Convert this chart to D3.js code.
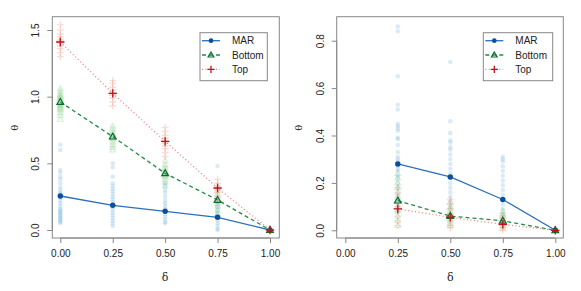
<!DOCTYPE html>
<html lang="en">
<head>
<meta charset="UTF-8">
<title>theta vs delta</title>
<script src="https://d3js.org/d3.v7.min.js"></script>
<style>
  body { margin: 0; background: #fff; }
  text { font-family: "Liberation Sans", Arial, sans-serif; fill: #222; }
</style>
</head>
<body>
<svg id="chart" width="581" height="291"></svg>
<script>
// shared
const deltas = [0, 0.25, 0.5, 0.75, 1];
const xTicks = [0, 0.25, 0.5, 0.75, 1];
const seriesNames = ["MAR", "Bottom", "Top"];

// left panel: means
const leftMAR = [0.255, 0.185, 0.14, 0.095, 0];
const leftBottom = [0.96, 0.70, 0.425, 0.225, 0];
const leftTop = [1.41, 1.025, 0.665, 0.315, 0];
const leftYTicks = [0, 0.5, 1.0, 1.5];

// left panel: replicates per delta (0, .25, .5, .75)
const leftMARReps = [
  [0.05,0.06,0.07,0.08,0.09,0.10,0.11,0.12,0.13,0.14,0.15,0.16,0.18,0.20,0.22,0.24,0.25,0.26,0.27,0.28,0.30,0.32,0.35,0.38,0.40,0.43,0.45,0.60,0.64],
  [0.03,0.05,0.07,0.09,0.11,0.13,0.15,0.17,0.19,0.21,0.23,0.25,0.27,0.29,0.31,0.33,0.35,0.40,0.47,0.50],
  [0.05,0.06,0.08,0.10,0.12,0.14,0.16,0.18,0.20,0.22,0.25,0.28,0.30,0.33,0.35],
  [0.0,0.01,0.03,0.05,0.07,0.09,0.11,0.13,0.15,0.17,0.19,0.21,0.48]
];
const leftBottomReps = [
  [0.83,0.86,0.88,0.90,0.91,0.92,0.93,0.94,0.95,0.96,0.97,0.98,0.99,1.00,1.01,1.02,1.04,1.06],
  [0.60,0.62,0.64,0.66,0.68,0.69,0.70,0.71,0.72,0.74,0.76,0.78],
  [0.33,0.36,0.38,0.40,0.41,0.42,0.43,0.44,0.45,0.47,0.49,0.52],
  [0.12,0.15,0.18,0.20,0.22,0.23,0.25,0.27,0.30]
];
const leftTopReps = [
  [1.30,1.33,1.36,1.38,1.40,1.41,1.42,1.43,1.45,1.47,1.50,1.54],
  [0.93,0.96,0.99,1.01,1.02,1.03,1.05,1.07,1.10,1.12],
  [0.55,0.58,0.61,0.63,0.65,0.66,0.67,0.69,0.71,0.74,0.77],
  [0.22,0.25,0.28,0.30,0.31,0.32,0.33,0.35,0.38]
];

// right panel: means (no value at delta 0)
const rightMAR = [null, 0.28, 0.225, 0.13, 0];
const rightBottom = [null, 0.125, 0.06, 0.04, 0];
const rightTop = [null, 0.09, 0.055, 0.025, 0];
const rightYTicks = [0, 0.2, 0.4, 0.6, 0.8];

const rightMARReps = [
  [],
  [0.86,0.84,0.65,0.53,0.51,0.45,0.44,0.43,0.42,0.39,0.385,0.36,0.33,0.31,0.30,0.29,0.28,0.27,0.26,0.25,0.23,0.22,0.20,0.18,0.15,0.12,0.10,0.08],
  [0.71,0.46,0.41,0.38,0.37,0.35,0.34,0.32,0.30,0.28,0.26,0.24,0.22,0.20,0.18,0.16,0.14,0.12,0.10],
  [0.31,0.30,0.29,0.27,0.25,0.23,0.21,0.19,0.17,0.15,0.13,0.11,0.09,0.07,0.05,0.04]
];
const rightBottomReps = [
  [],
  [0.02,0.04,0.06,0.08,0.10,0.12,0.14,0.16,0.18,0.20,0.22,0.24],
  [0.02,0.03,0.04,0.05,0.06,0.07,0.08,0.09,0.10,0.12],
  [0.01,0.02,0.03,0.04,0.05,0.06,0.07,0.08]
];
const rightTopReps = [
  [],
  [0.02,0.04,0.06,0.08,0.09,0.10,0.12,0.14,0.16,0.18],
  [0.01,0.02,0.04,0.05,0.06,0.07,0.09,0.11,0.13],
  [0.0,0.01,0.02,0.03,0.04,0.05,0.06]
];

// styles per series
const styles = {
  MAR:    { line: "#2c6fbb", dash: null,   pt: "#0b4f9c", rep: "#7fb6e0", shape: "circle" },
  Bottom: { line: "#238b45", dash: "4,3",  pt: "#0a6b2e", rep: "#74c476", shape: "triangle" },
  Top:    { line: "#e8837a", dash: "1,2.5", pt: "#c4121b", rep: "#f08070", shape: "plus" }
};

const svg = d3.select("#chart");

function marker(g, shape, x, y, color, opacity, size) {
  if (shape === "circle") {
    g.append("circle").attr("cx", x).attr("cy", y).attr("r", size * 0.65)
      .attr("fill", color).attr("fill-opacity", opacity);
  } else if (shape === "triangle") {
    const s = size;
    g.append("path")
      .attr("d", `M${x},${y - s * 0.85}L${x + s * 0.8},${y + s * 0.55}L${x - s * 0.8},${y + s * 0.55}Z`)
      .attr("fill", "none").attr("stroke", color).attr("stroke-width", 1.2)
      .attr("stroke-opacity", opacity);
  } else {
    const s = size;
    g.append("path")
      .attr("d", `M${x - s},${y}H${x + s}M${x},${y - s}V${y + s}`)
      .attr("stroke", color).attr("stroke-width", 1.3).attr("stroke-opacity", opacity);
  }
}

function drawPanel(p) {
  const g = svg.append("g");
  const x = d3.scaleLinear().domain([0, 1]).range([p.x0, p.x1]);
  const y = d3.scaleLinear().domain([0, p.yTop]).range([p.y0, p.y1]);

  // frame
  g.append("rect").attr("x", p.left).attr("y", 16.7)
    .attr("width", p.right - p.left).attr("height", 238 - 16.7)
    .attr("fill", "none").attr("stroke", "#888").attr("stroke-width", 1);

  // axes
  const xa = g.append("g").attr("transform", `translate(0,238)`)
    .call(d3.axisBottom(x).tickValues(xTicks).tickFormat(d3.format(".2f")).tickSizeOuter(0).tickSize(5).tickPadding(7));
  const ya = g.append("g").attr("transform", `translate(${p.left},0)`)
    .call(d3.axisLeft(y).tickValues(p.yTicks).tickFormat(d3.format(".1f")).tickSizeOuter(0).tickSize(5));
  [xa, ya].forEach(a => {
    a.select(".domain").attr("stroke", "#888");
    a.selectAll(".tick line").attr("stroke", "#888");
    a.selectAll("text").style("font-size", "10px").attr("fill", "#222");
  });
  xa.select(".domain").attr("d", `M${x(0)},0H${x(1)}`);
  ya.select(".domain").attr("d", `M0,${y(p.yTicks[0])}V${y(p.yTicks[p.yTicks.length - 1])}`);
  ya.selectAll(".tick text")
    .attr("transform", "rotate(-90)")
    .attr("x", 0).attr("y", -13).attr("dy", 0)
    .attr("text-anchor", "middle");

  // axis titles
  g.append("text").attr("x", (x(0) + x(1)) / 2).attr("y", 281)
    .attr("text-anchor", "middle").style("font-size", "11px").style("font-family", "DejaVu Serif").text("δ");
  g.append("text").attr("transform", `translate(${p.left - 38},127.7) rotate(-90)`)
    .attr("text-anchor", "middle").attr("dy", "0.35em").style("font-size", "10px").style("font-family", "DejaVu Serif").text("θ");

  // replicates
  seriesNames.forEach((name, k) => {
    const st = styles[name];
    p.reps[k].forEach((vals, i) => {
      vals.forEach(v => marker(g, st.shape, x(deltas[i]), y(v), st.rep, 0.28, 3.5));
    });
  });

  // mean lines and points
  seriesNames.forEach((name, k) => {
    const st = styles[name];
    const pts = deltas.map((d, i) => [d, p.means[k][i]]).filter(d => d[1] !== null);
    g.append("path").datum(pts)
      .attr("d", d3.line().x(d => x(d[0])).y(d => y(d[1])))
      .attr("fill", "none").attr("stroke", st.line).attr("stroke-width", 1.3)
      .attr("stroke-dasharray", st.dash);
    pts.forEach(d => marker(g, st.shape, x(d[0]), y(d[1]), st.pt, 1, 4.2));
  });

  // legend
  const lg = g.append("g");
  lg.append("rect").attr("x", p.legX).attr("y", 32.7).attr("width", p.legW).attr("height", 48)
    .attr("fill", "#fff").attr("stroke", "#888");
  seriesNames.forEach((name, k) => {
    const st = styles[name];
    const ly = 40.7 + k * 14.3;
    const lx0 = p.legX + 2, lx1 = p.legX + 20;
    lg.append("line").attr("x1", lx0).attr("x2", lx1).attr("y1", ly).attr("y2", ly)
      .attr("stroke", st.line).attr("stroke-width", 1.3).attr("stroke-dasharray", st.dash);
    marker(lg, st.shape, (lx0 + lx1) / 2, ly, st.pt, 1, 3.6);
    lg.append("text").attr("x", p.legX + 32).attr("y", ly).attr("dy", "0.35em")
      .style("font-size", "10px").text(name);
  });
}

drawPanel({
  left: 52.3, right: 279.3, x0: 60.3, x1: 270,
  y0: 230, y1: 30, yTop: 1.5, yTicks: leftYTicks,
  means: [leftMAR, leftBottom, leftTop],
  reps: [leftMARReps, leftBottomReps, leftTopReps],
  legX: 200, legW: 67.3
});
drawPanel({
  left: 336.7, right: 563.3, x0: 345.3, x1: 555.3,
  y0: 230.3, y1: 40.7, yTop: 0.8, yTicks: rightYTicks,
  means: [rightMAR, rightBottom, rightTop],
  reps: [rightMARReps, rightBottomReps, rightTopReps],
  legX: 483.3, legW: 69.4
});
</script>
</body>
</html>
